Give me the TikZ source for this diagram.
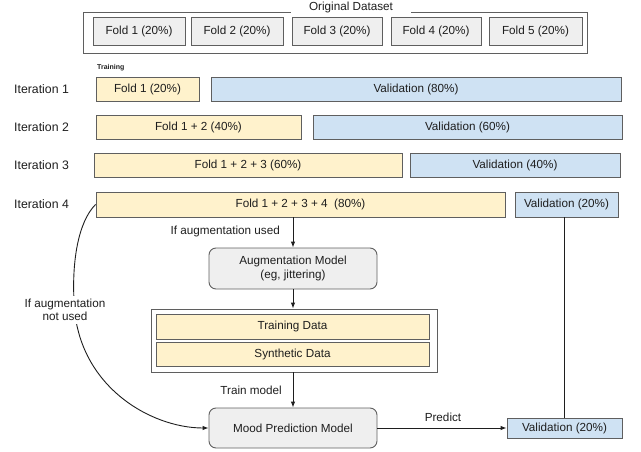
\documentclass[tikz,border=0pt]{standalone}
\usepackage{fontspec}
\setmainfont{Liberation Sans}
\usetikzlibrary{arrows.meta}
\definecolor{bordc}{HTML}{5F5F5F}
\definecolor{grayf}{HTML}{EFEFEF}
\definecolor{yelf}{HTML}{FFF2CC}
\definecolor{bluf}{HTML}{CFE2F3}
\definecolor{txtc}{HTML}{1E1E1E}
\begin{document}
\begin{tikzpicture}[x=1pt,y=-1pt,
  every node/.style={font=\fontsize{11.7}{13.5}\selectfont, text=txtc},
  boxbase/.style={draw=bordc, line width=0.9pt, inner sep=0pt},
  foldbox/.style={boxbase, fill=grayf, minimum height=28pt},
  ybox/.style={boxbase, fill=yelf},
  bbox/.style={boxbase, fill=bluf},
  rbox/.style={boxbase, fill=grayf, rounded corners=7pt, align=center},
  lab/.style={inner sep=1pt},
  itlab/.style={inner sep=1pt, anchor=west, font=\fontsize{12.3}{14}\selectfont},
  arr/.style={draw=txtc, line width=0.9pt, -{Latex[length=6pt,width=4.5pt]}},
  ln/.style={draw=txtc, line width=0.9pt}]
\useasboundingbox (0,0) rectangle (641,452);
% Original dataset
\node[draw=bordc, line width=0.9pt, minimum width=504pt, minimum height=41pt, inner sep=0pt] (orig) at (335,32.5) {};
\node[fill=white, inner xsep=18pt, inner ysep=1pt] (origt) at (351,7) {Original Dataset};
\node[foldbox, minimum width=92pt] (f1) at (139,31) {Fold 1 (20\%)};
\node[foldbox, minimum width=92pt] (f2) at (237,31) {Fold 2 (20\%)};
\node[foldbox, minimum width=90pt] (f3) at (337,31) {Fold 3 (20\%)};
\node[foldbox, minimum width=90pt] (f4) at (436,31) {Fold 4 (20\%)};
\node[foldbox, minimum width=93pt] (f5) at (535.5,31) {Fold 5 (20\%)};
% Training label
\node[lab, font=\fontsize{7}{8}\selectfont\bfseries, anchor=west] (trl) at (96,67.5) {Training};
% Iteration labels
\node[itlab] (it1) at (13,89) {Iteration 1};
\node[itlab] (it2) at (13,127) {Iteration 2};
\node[itlab] (it3) at (13,165) {Iteration 3};
\node[itlab] (it4) at (13,204.5) {Iteration 4};
% Rows
\node[ybox, minimum width=103pt, minimum height=24pt] (t1) at (147.5,89) {Fold 1 (20\%)};
\node[bbox, minimum width=410pt, minimum height=24pt] (v1) at (416,89) {Validation (80\%)};
\node[ybox, minimum width=205pt, minimum height=24pt] (t2) at (198.5,127) {Fold 1 + 2 (40\%)};
\node[bbox, minimum width=309pt, minimum height=24pt] (v2) at (467.5,127) {Validation (60\%)};
\node[ybox, minimum width=308pt, minimum height=24pt] (t3) at (248,165) {Fold 1 + 2 + 3 (60\%)};
\node[bbox, minimum width=210pt, minimum height=24pt] (v3) at (515,165) {Validation (40\%)};
\node[ybox, minimum width=409pt, minimum height=25pt] (t4) at (300.5,204.5) {Fold 1 + 2 + 3 + 4~~(80\%)};
\node[bbox, minimum width=103pt, minimum height=25pt] (v4) at (566.5,204.5) {Validation (20\%)};
% Lower flow
\node[rbox, minimum width=168pt, minimum height=41pt] (aug) at (293,268.5) {Augmentation Model\\(eg, jittering)};
\node[draw=bordc, line width=0.9pt, fill=white, minimum width=286pt, minimum height=63pt, inner sep=0pt] (cont) at (294,340.5) {};
\node[ybox, minimum width=273pt, minimum height=25pt] (td) at (292.5,326.5) {Training Data};
\node[ybox, minimum width=273pt, minimum height=24pt] (sd) at (292.5,354) {Synthetic Data};
\node[rbox, minimum width=168pt, minimum height=40pt] (mood) at (293,428) {Mood Prediction Model};
\node[bbox, minimum width=115pt, minimum height=20pt] (vb) at (564.5,428) {Validation (20\%)};
% Connectors
\draw[arr] (aug.north |- t4.south) -- (aug.north);
\node[lab, anchor=east] (l1) at (281,231) {If augmentation used};
\draw[arr] (aug.south) -- (aug.south |- cont.north);
\draw[arr] (mood.north |- cont.south) -- (mood.north);
\node[lab, anchor=east] (l2) at (283,390) {Train model};
\draw[arr] (mood.east) -- (vb.west);
\node[lab] (l3) at (443,417) {Predict};
\draw[ln] (vb.north |- v4.south) -- (vb.north);
\draw[arr] (t4.west) .. controls (78,222) and (72,262) .. (74,300) .. controls (76,385) and (150,428) .. (mood.west);
\node[lab, fill=white, align=center, inner sep=3pt] (l4) at (65,310) {If augmentation\\not used};
\end{tikzpicture}
\end{document}
